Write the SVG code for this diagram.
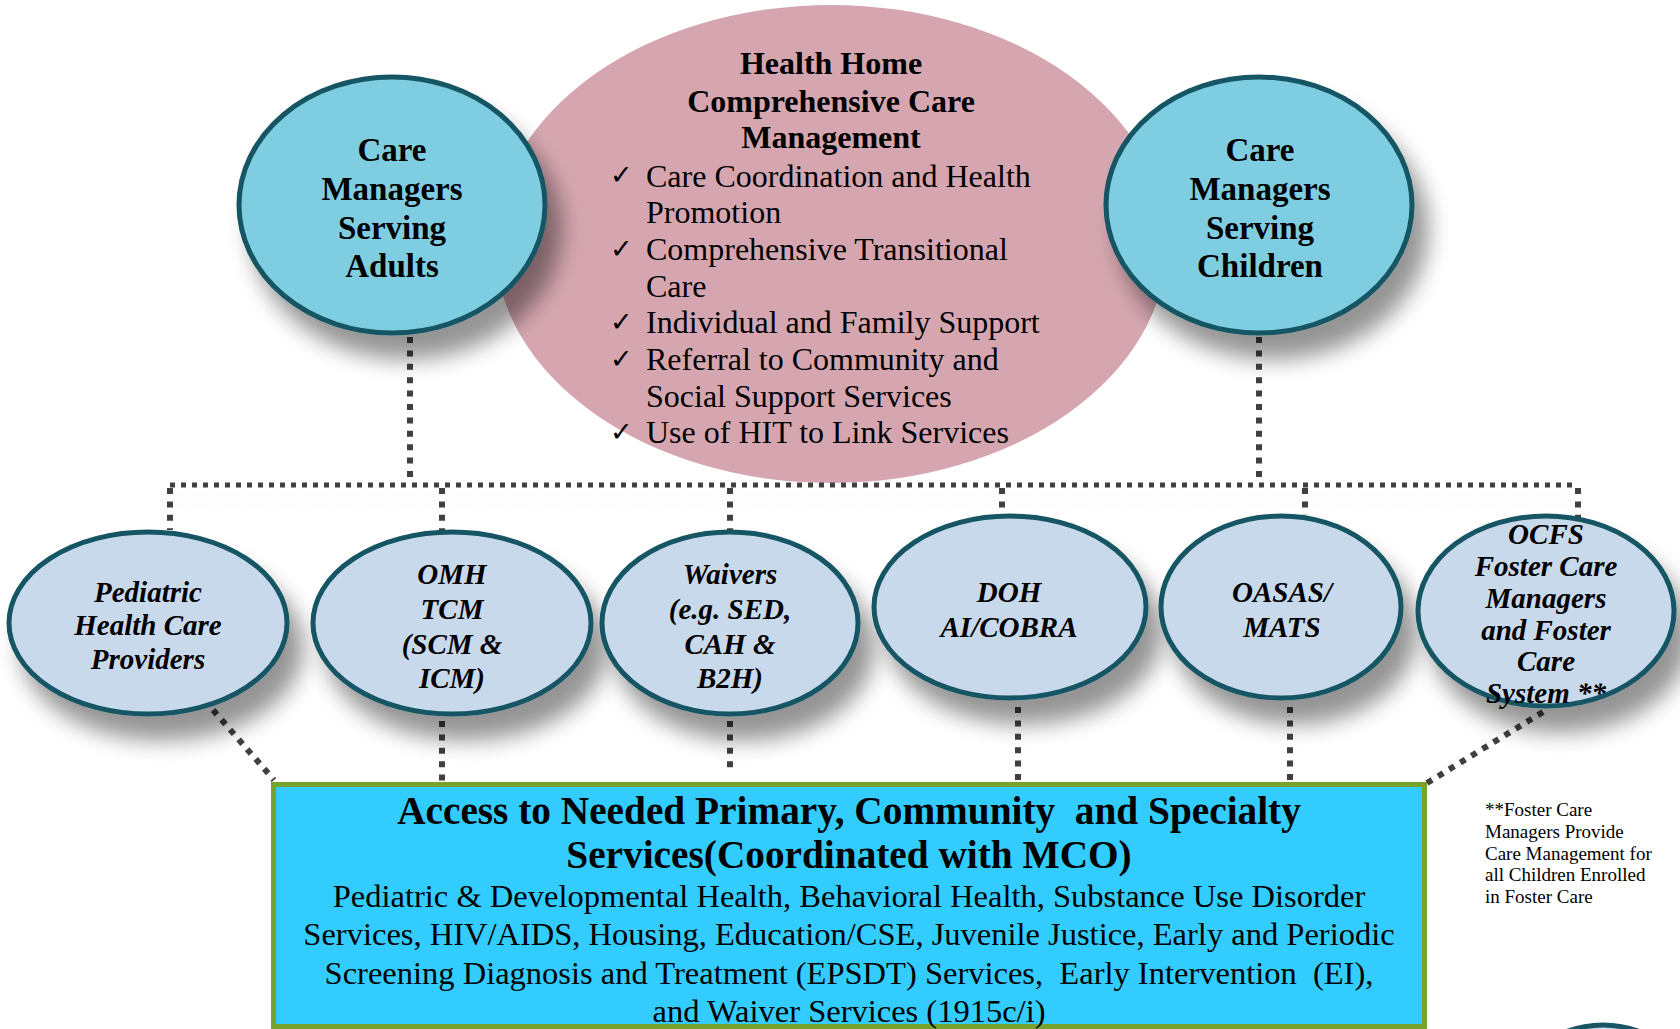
<svg xmlns="http://www.w3.org/2000/svg" width="1680" height="1029" viewBox="0 0 1680 1029">
<defs>
<filter id="sh" x="-30%" y="-30%" width="170%" height="180%">
<feGaussianBlur in="SourceAlpha" stdDeviation="11"/>
<feOffset dx="14" dy="24" result="b"/>
<feComponentTransfer><feFuncA type="linear" slope="0.42"/></feComponentTransfer>
<feMerge><feMergeNode/><feMergeNode in="SourceGraphic"/></feMerge>
</filter>
<filter id="lsh" filterUnits="userSpaceOnUse" x="140" y="460" width="1480" height="80">
<feGaussianBlur in="SourceAlpha" stdDeviation="8"/>
<feOffset dx="0" dy="14"/>
<feComponentTransfer><feFuncA type="linear" slope="0.08"/></feComponentTransfer>
<feMerge><feMergeNode/><feMergeNode in="SourceGraphic"/></feMerge>
</filter>
<style>
.t{font-family:"Liberation Serif","DejaVu Serif",serif;fill:#000;text-anchor:middle}
.b{font-weight:bold}
.bi{font-weight:bold;font-style:italic;font-size:29px}
.big{stroke:#175563;stroke-width:5;fill:#7ecde0}
.sm{stroke:#175563;stroke-width:5;fill:#c9d9ec}
.v{stroke:#404040;stroke-width:6;stroke-dasharray:6 7.4;fill:none}
.h{stroke:#404040;stroke-width:5;stroke-dasharray:5 6;fill:none}
.d{stroke:#404040;stroke-width:6;stroke-dasharray:6 7;fill:none}
.ck{font-family:"DejaVu Sans",sans-serif;font-size:27px;fill:#000}
.bl{font-family:"Liberation Serif","DejaVu Serif",serif;font-size:32px;fill:#000}
.fn{font-family:"Liberation Serif","DejaVu Serif",serif;font-size:19px;fill:#000}
</style>
</defs>
<rect width="1680" height="1029" fill="#fff"/>

<g id="health-home">
<ellipse cx="831" cy="244" rx="336" ry="239" fill="#d5a6b0"/>
<text class="t b" font-size="32" x="831" y="74">Health Home</text>
<text class="t b" font-size="32" x="831" y="112">Comprehensive Care</text>
<text class="t b" font-size="32" x="831" y="148">Management</text>
<text class="ck" x="610" y="184">✓</text>
<text class="bl" x="646" y="186.5">Care Coordination and Health</text>
<text class="bl" x="646" y="223.2">Promotion</text>
<text class="ck" x="610" y="258">✓</text>
<text class="bl" x="646" y="259.9">Comprehensive Transitional</text>
<text class="bl" x="646" y="296.6">Care</text>
<text class="ck" x="610" y="331">✓</text>
<text class="bl" x="646" y="333.3">Individual and Family Support</text>
<text class="ck" x="610" y="368">✓</text>
<text class="bl" x="646" y="370">Referral to Community and</text>
<text class="bl" x="646" y="406.7">Social Support Services</text>
<text class="ck" x="610" y="441">✓</text>
<text class="bl" x="646" y="443.4">Use of HIT to Link Services</text>
</g>

<g id="connectors">
<g filter="url(#lsh)">
<path class="h" d="M170 485 H1578"/>
</g>
<path class="v" d="M410 337 V482"/>
<path class="v" d="M1259 337 V482"/>
<path class="v" d="M170 488 V530"/>
<path class="v" d="M442 488 V530"/>
<path class="v" d="M730 488 V530"/>
<path class="v" d="M1002 488 V515"/>
<path class="v" d="M1305 488 V515"/>
<path class="v" d="M1578 488 V518"/>
<path class="d" d="M213 710 L274 780"/>
<path class="v" d="M442 721 V781"/>
<path class="v" d="M730 721 V768"/>
<path class="v" d="M1018 707 V781"/>
<path class="v" d="M1290 707 V781"/>
<path class="d" d="M1543 712 L1427 783"/>
</g>

<g id="adults">
<ellipse class="big" cx="392" cy="205" rx="153" ry="128" filter="url(#sh)"/>
<text class="t b" font-size="33" x="392" y="161">Care</text>
<text class="t b" font-size="33" x="392" y="200">Managers</text>
<text class="t b" font-size="33" x="392" y="239">Serving</text>
<text class="t b" font-size="33" x="392" y="277">Adults</text>
</g>

<g id="children">
<ellipse class="big" cx="1259" cy="205" rx="153" ry="128" filter="url(#sh)"/>
<text class="t b" font-size="33" x="1260" y="161">Care</text>
<text class="t b" font-size="33" x="1260" y="200">Managers</text>
<text class="t b" font-size="33" x="1260" y="239">Serving</text>
<text class="t b" font-size="33" x="1260" y="277">Children</text>
</g>

<g id="pediatric">
<ellipse class="sm" cx="148" cy="623" rx="139" ry="91" filter="url(#sh)"/>
<text class="t bi" x="148" y="602">Pediatric</text>
<text class="t bi" x="148" y="635">Health Care</text>
<text class="t bi" x="148" y="669">Providers</text>
</g>

<g id="omh">
<ellipse class="sm" cx="452" cy="623" rx="139" ry="91" filter="url(#sh)"/>
<text class="t bi" x="452" y="584">OMH</text>
<text class="t bi" x="452" y="619">TCM</text>
<text class="t bi" x="452" y="654">(SCM &amp;</text>
<text class="t bi" x="452" y="688">ICM)</text>
</g>

<g id="waivers">
<ellipse class="sm" cx="730" cy="623" rx="128" ry="91" filter="url(#sh)"/>
<text class="t bi" x="730" y="584">Waivers</text>
<text class="t bi" x="730" y="619">(e.g. SED,</text>
<text class="t bi" x="730" y="654">CAH &amp;</text>
<text class="t bi" x="730" y="688">B2H)</text>
</g>

<g id="doh">
<ellipse class="sm" cx="1010" cy="607" rx="136" ry="91" filter="url(#sh)"/>
<text class="t bi" x="1009" y="602">DOH</text>
<text class="t bi" x="1009" y="637">AI/COBRA</text>
</g>

<g id="oasas">
<ellipse class="sm" cx="1281" cy="607" rx="120" ry="91" filter="url(#sh)"/>
<text class="t bi" x="1282" y="602">OASAS/</text>
<text class="t bi" x="1282" y="637">MATS</text>
</g>

<g id="ocfs">
<ellipse class="sm" cx="1546" cy="611" rx="128" ry="95" filter="url(#sh)"/>
<text class="t bi" x="1546" y="544">OCFS</text>
<text class="t bi" x="1546" y="576">Foster Care</text>
<text class="t bi" x="1546" y="608">Managers</text>
<text class="t bi" x="1546" y="640">and Foster</text>
<text class="t bi" x="1546" y="671">Care</text>
<text class="t bi" x="1546" y="703">System **</text>
</g>

<g id="partial-node">
<ellipse class="sm" cx="1603" cy="1120" rx="100" ry="95"/>
</g>

<g id="access">
<rect x="273.5" y="784.5" width="1151" height="242" fill="#33ccff" stroke="#77a22d" stroke-width="5"/>
<text class="t b" font-size="39.3" x="849" y="823.5" xml:space="preserve">Access to Needed Primary, Community  and Specialty</text>
<text class="t b" font-size="39.3" x="849" y="867.5">Services(Coordinated with MCO)</text>
<text class="t" font-size="32.5" x="849" y="906.5">Pediatric &amp; Developmental Health, Behavioral Health, Substance Use Disorder</text>
<text class="t" font-size="32.5" x="849" y="945">Services, HIV/AIDS, Housing, Education/CSE, Juvenile Justice, Early and Periodic</text>
<text class="t" font-size="32.5" x="849" y="983.5" xml:space="preserve">Screening Diagnosis and Treatment (EPSDT) Services,  Early Intervention  (EI),</text>
<text class="t" font-size="32.5" x="849" y="1021.5">and Waiver Services (1915c/i)</text>
</g>

<g id="footnote">
<text class="fn" x="1485" y="816">**Foster Care</text>
<text class="fn" x="1485" y="838">Managers Provide</text>
<text class="fn" x="1485" y="860">Care Management for</text>
<text class="fn" x="1485" y="881">all Children Enrolled</text>
<text class="fn" x="1485" y="903">in Foster Care</text>
</g>
</svg>
